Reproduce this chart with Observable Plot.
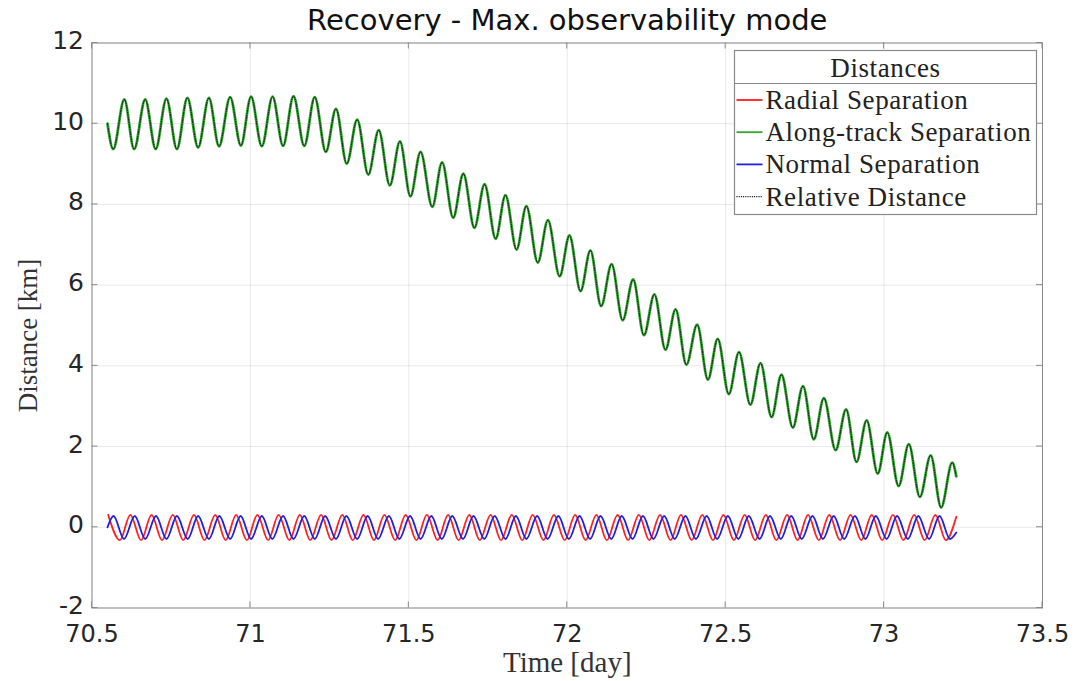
<!DOCTYPE html>
<html><head><meta charset="utf-8">
<script src="https://cdn.jsdelivr.net/npm/d3@7"></script>
<script src="https://cdn.jsdelivr.net/npm/@observablehq/plot@0.6"></script>
<style>html,body{margin:0;padding:0;background:#fff;} #chart{width:1076px;height:681px;}</style>
</head><body><div id="chart"></div>
<script>
// ---- text ----
const titleText = "Recovery - Max. observability mode";
const xLabel = "Time [day]";
const yLabel = "Distance [km]";
const legendTitle = "Distances";
const seriesNames = ["Radial Separation", "Along-track Separation", "Normal Separation", "Relative Distance"];
const xTicks = [70.5, 71, 71.5, 72, 72.5, 73, 73.5];
const yTicks = [-2, 0, 2, 4, 6, 8, 10, 12];

// ---- Along-track separation (km): start, local maxima, local minima, end ----
const alongStart = [70.549, 10.00];
const alongEnd = [73.228, 1.26];
const alongPeakT = [70.602,70.668,70.735,70.801,70.869,70.936,71.002,71.070,71.136,71.203,71.270,71.337,71.405,71.472,71.537,71.605,71.672,71.739,71.805,71.871,71.939,72.007,72.073,72.140,72.208,72.275,72.342,72.410,72.475,72.542,72.610,72.676,72.744,72.810,72.880,72.945,73.010,73.078,73.147,73.215];
const alongPeakV = [10.60,10.60,10.62,10.64,10.64,10.66,10.67,10.67,10.68,10.66,10.37,10.10,9.84,9.56,9.30,9.04,8.76,8.50,8.23,7.96,7.61,7.23,6.86,6.52,6.14,5.77,5.40,5.02,4.67,4.34,4.07,3.78,3.50,3.20,2.92,2.65,2.35,2.06,1.78,1.60];
const alongTroughT = [70.567,70.633,70.701,70.768,70.835,70.901,70.970,71.036,71.103,71.170,71.238,71.304,71.372,71.440,71.505,71.574,71.640,71.707,71.774,71.840,71.907,71.976,72.042,72.107,72.175,72.242,72.310,72.376,72.444,72.510,72.578,72.645,72.712,72.778,72.847,72.913,72.980,73.046,73.113,73.180];
const alongTroughV = [9.37,9.37,9.37,9.37,9.41,9.44,9.46,9.44,9.45,9.45,9.30,9.01,8.74,8.47,8.20,7.94,7.67,7.42,7.15,6.88,6.56,6.22,5.85,5.48,5.13,4.76,4.40,4.03,3.66,3.30,3.04,2.73,2.47,2.18,1.91,1.62,1.33,1.02,0.75,0.49];

// ---- Radial separation (km) ----
const radialEnd = [73.228, 0.26];
const radialPeakT = [70.551,70.621,70.688,70.755,70.822,70.889,70.955,71.022,71.089,71.156,71.223,71.290,71.357,71.423,71.490,71.557,71.624,71.691,71.758,71.825,71.891,71.958,72.025,72.092,72.159,72.226,72.293,72.359,72.426,72.493,72.560,72.627,72.694,72.760,72.827,72.894,72.961,73.028,73.095,73.162];
const radialPeakV = [0.31,0.31,0.31,0.31,0.31,0.31,0.31,0.31,0.31,0.31,0.31,0.31,0.31,0.31,0.31,0.31,0.31,0.31,0.31,0.31,0.31,0.31,0.31,0.31,0.31,0.31,0.31,0.31,0.31,0.31,0.31,0.31,0.31,0.31,0.31,0.31,0.31,0.31,0.31,0.31];
const radialTroughT = [70.588,70.655,70.721,70.788,70.855,70.922,70.989,71.056,71.123,71.189,71.256,71.323,71.390,71.457,71.524,71.591,71.657,71.724,71.791,71.858,71.925,71.992,72.058,72.125,72.192,72.259,72.326,72.393,72.460,72.526,72.593,72.660,72.727,72.794,72.861,72.928,72.994,73.061,73.128,73.195];
const radialTroughV = [-0.32,-0.32,-0.32,-0.32,-0.32,-0.32,-0.32,-0.32,-0.32,-0.32,-0.32,-0.32,-0.32,-0.32,-0.32,-0.32,-0.32,-0.32,-0.32,-0.32,-0.32,-0.32,-0.32,-0.32,-0.32,-0.32,-0.32,-0.32,-0.32,-0.32,-0.32,-0.32,-0.32,-0.32,-0.32,-0.32,-0.32,-0.32,-0.32,-0.32];

// ---- Normal separation (km) ----
const normalStart = [70.549, 0.00];
const normalEnd = [73.228, -0.13];
const normalPeakT = [70.568,70.635,70.702,70.768,70.835,70.902,70.969,71.036,71.103,71.170,71.236,71.303,71.370,71.437,71.504,71.571,71.637,71.704,71.771,71.838,71.905,71.972,72.039,72.105,72.172,72.239,72.306,72.373,72.440,72.507,72.573,72.640,72.707,72.774,72.841,72.908,72.974,73.041,73.108,73.175];
const normalPeakV = [0.28,0.28,0.28,0.28,0.28,0.28,0.28,0.28,0.28,0.28,0.28,0.28,0.28,0.28,0.28,0.28,0.28,0.28,0.28,0.28,0.28,0.28,0.28,0.28,0.28,0.28,0.28,0.28,0.28,0.28,0.28,0.28,0.28,0.28,0.28,0.28,0.28,0.28,0.28,0.28];
const normalTroughT = [70.601,70.668,70.735,70.802,70.869,70.936,71.002,71.069,71.136,71.203,71.270,71.337,71.403,71.470,71.537,71.604,71.671,71.738,71.805,71.871,71.938,72.005,72.072,72.139,72.206,72.272,72.339,72.406,72.473,72.540,72.607,72.674,72.740,72.807,72.874,72.941,73.008,73.075,73.142,73.208];
const normalTroughV = [-0.29,-0.29,-0.29,-0.29,-0.29,-0.29,-0.29,-0.29,-0.29,-0.29,-0.29,-0.29,-0.29,-0.29,-0.29,-0.29,-0.29,-0.29,-0.29,-0.29,-0.29,-0.29,-0.29,-0.29,-0.29,-0.29,-0.29,-0.29,-0.29,-0.29,-0.29,-0.29,-0.29,-0.29,-0.29,-0.29,-0.29,-0.29,-0.29,-0.29];

// ---- styles ----
const colors = ["#ff1f1f", "#34a534", "#1f1fe0", "#000000"];
const serif = "'Liberation Serif', 'DejaVu Serif', serif";
const sans = "'DejaVu Sans', sans-serif";

function buildSeries(name, start, pT, pV, tT, tV, end) {
  const pts = [];
  if (start) pts.push({t: start[0], v: start[1]});
  pT.forEach((t, i) => pts.push({t, v: pV[i]}));
  tT.forEach((t, i) => pts.push({t, v: tV[i]}));
  if (end) pts.push({t: end[0], v: end[1]});
  pts.sort((a, b) => a.t - b.t);
  return pts.map(d => ({...d, series: name}));
}
const radial = buildSeries(seriesNames[0], null, radialPeakT, radialPeakV, radialTroughT, radialTroughV, radialEnd);
const along = buildSeries(seriesNames[1], alongStart, alongPeakT, alongPeakV, alongTroughT, alongTroughV, alongEnd);
const normal = buildSeries(seriesNames[2], normalStart, normalPeakT, normalPeakV, normalTroughT, normalTroughV, normalEnd);
const relative = buildSeries(seriesNames[3], alongStart, alongPeakT, alongPeakV, alongTroughT, alongTroughV, alongEnd);

const W = 1076, H = 681;
const chart = Plot.plot({
  width: W, height: H,
  marginLeft: 91.5, marginRight: 34, marginTop: 42.5, marginBottom: 73.5,
  style: {background: "#fff", fontFamily: sans, color: "#262626"},
  x: {domain: [70.5, 73.5]},
  y: {domain: [-2, 12]},
  marks: [
    Plot.gridX(xTicks, {stroke: "#000", strokeOpacity: 0.09}),
    Plot.gridY(yTicks, {stroke: "#000", strokeOpacity: 0.09}),
    Plot.frame({stroke: "#8a8a8a", strokeWidth: 1}),
    Plot.axisX({ticks: xTicks, tickFormat: d => String(d), tickSize: 0, tickPadding: 17, fontSize: 24, label: null, fill: "#262626"}),
    Plot.axisY({ticks: yTicks, tickFormat: d => String(d), tickSize: 0, tickPadding: 8, dy: -2, fontSize: 25, label: null, fill: "#262626"}),
    Plot.line(radial, {x: "t", y: "v", stroke: colors[0], strokeWidth: 1.8, curve: "monotone-x"}),
    Plot.line(along, {x: "t", y: "v", stroke: colors[1], strokeWidth: 2.8, curve: "monotone-x"}),
    Plot.line(normal, {x: "t", y: "v", stroke: colors[2], strokeWidth: 1.8, curve: "monotone-x"}),
    Plot.line(relative, {x: "t", y: "v", stroke: colors[3], strokeWidth: 0.9, strokeDasharray: "0.9,1.5", curve: "monotone-x"}),
    Plot.text([titleText], {text: d => d, frameAnchor: "top", lineAnchor: "middle", dy: -22, fontSize: 29, fill: "#111"}),
    Plot.text([xLabel], {text: d => d, frameAnchor: "bottom", lineAnchor: "middle", dy: 55, fontSize: 29, fontFamily: serif, fill: "#333", letterSpacing: 0.6}),
    Plot.text([yLabel], {text: d => d, frameAnchor: "left", textAnchor: "middle", lineAnchor: "middle", dx: -64, dy: 10, rotate: -90, fontSize: 27, fontFamily: serif, fill: "#333"})
  ]
});
document.getElementById("chart").appendChild(chart);

// inward tick marks on all four sides, placed with the chart's own scales
const sx = chart.scale("x"), sy = chart.scale("y");
const svg = d3.select(chart);
const g = svg.append("g").attr("stroke", "#8a8a8a").attr("stroke-width", 1);
const y0 = sy.apply(-2), y1 = sy.apply(12), x0 = sx.apply(70.5), x1 = sx.apply(73.5);
const tl = 6;
xTicks.forEach(v => {
  const x = sx.apply(v);
  g.append("line").attr("x1", x).attr("x2", x).attr("y1", y0).attr("y2", y0 - tl);
  g.append("line").attr("x1", x).attr("x2", x).attr("y1", y1).attr("y2", y1 + tl);
});
yTicks.forEach(v => {
  const y = sy.apply(v);
  g.append("line").attr("x1", x0).attr("x2", x0 + tl).attr("y1", y).attr("y2", y);
  g.append("line").attr("x1", x1).attr("x2", x1 - tl).attr("y1", y).attr("y2", y);
});

// legend box
const lg = svg.append("g");
const LX = 734.5, LY = 50.5, LW = 302, LH = 164;
lg.append("rect").attr("x", LX).attr("y", LY).attr("width", LW).attr("height", LH)
  .attr("fill", "#fff").attr("stroke", "#8a8a8a").attr("stroke-width", 1.2);
lg.append("line").attr("x1", LX).attr("x2", LX + LW).attr("y1", LY + 33).attr("y2", LY + 33)
  .attr("stroke", "#8a8a8a").attr("stroke-width", 1.2);
lg.append("text").attr("x", LX + LW / 2).attr("y", LY + 17).attr("text-anchor", "middle")
  .attr("dominant-baseline", "central").attr("font-family", serif).attr("font-size", 27)
  .attr("letter-spacing", 0.6).attr("fill", "#222").text(legendTitle);
seriesNames.forEach((name, i) => {
  const y = LY + 49.5 + i * 32.2;
  const ln = lg.append("line").attr("x1", LX + 2).attr("x2", LX + 28).attr("y1", y).attr("y2", y)
    .attr("stroke", colors[i]).attr("stroke-width", i === 3 ? 1.1 : 1.8);
  if (i === 3) ln.attr("stroke-dasharray", "1,1.2");
  lg.append("text").attr("x", LX + 31).attr("y", y).attr("text-anchor", "start").attr("dominant-baseline", "central")
    .attr("font-family", serif).attr("font-size", 27).attr("letter-spacing", 0.6).attr("fill", "#222").text(name);
});
</script>
</body></html>
